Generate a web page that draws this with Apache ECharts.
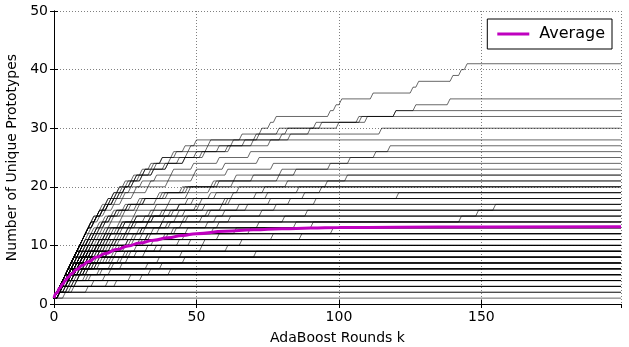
<!DOCTYPE html>
<html>
<head>
<meta charset="utf-8">
<script src="https://cdn.jsdelivr.net/npm/echarts@6/dist/echarts.min.js"></script>
<style>
  html, body { margin: 0; padding: 0; background: #fff; }
  #chart { width: 629px; height: 347px; }
</style>
</head>
<body>
<div id="chart"></div>
<script>
// each run = AdaBoost rounds at which a new prototype showed up (count starts at 1)
var runsLow = [
  [],
  [1], [4],
  [1,3], [2,6], [1,12], [2,7],
  [1,2,5], [1,3,8], [2,4,14], [1,5,19], [2,5,22],
  [1,2,3,6], [1,2,4,9], [1,3,5,13], [2,3,7,18], [1,2,6,27], [1,4,8,31],
  [1,2,3,5,8], [1,2,4,6,11], [1,3,4,7,16], [1,2,3,9,34], [2,3,6,12,41], [2,4,7,11,20],
  [1,2,3,4,6,10], [1,2,4,5,8,14], [1,2,3,6,9,21], [1,3,4,7,12,38], [1,2,5,9,17,33], [1,3,5,7,10,24],
  [1,2,3,4,6,8,12], [1,2,3,5,7,10,17], [1,2,4,5,8,13,24], [1,2,3,5,9,15,46], [1,3,5,8,12,20,37], [1,2,3,6,8,13,26],
  [1,2,3,4,5,7,9,13], [1,2,3,5,6,8,11,19], [1,2,4,5,7,10,16,29], [1,2,3,4,6,9,14,71], [2,3,5,7,11,15,23,45], [1,2,4,7,11,16,21,32]
];
var runsMid = [
  [1,2,3,4,5,6,8,10,15], [1,2,3,5,6,8,11,14,22], [1,2,4,5,7,9,13,19,36], [1,2,4,6,9,12,18,27,52], [1,3,4,6,10,14,20,26,61],
  [1,2,3,4,5,6,7,9,12,17], [1,2,3,4,6,8,10,13,18,27], [1,2,3,5,6,9,12,16,24,53], [1,2,4,6,8,11,15,21,33,48], [2,3,5,7,10,13,19,25,38,66],
  [1,2,3,4,5,6,7,8,10,13,19], [1,2,3,4,6,7,9,12,16,23,31], [1,2,4,5,7,9,11,15,20,30,87], [1,2,3,5,7,10,13,17,24,35,58], [1,3,4,6,9,12,16,22,29,44,77],
  [1,2,3,4,5,6,7,9,11,14,18,26], [1,2,3,5,6,8,10,13,17,22,33,64], [1,2,4,5,7,10,13,16,21,28,39,69], [1,2,3,5,8,11,14,19,25,32,46,98],
  [1,2,3,4,5,6,7,8,9,11,14,18,25], [1,2,3,4,6,8,10,12,16,21,29,42,91], [1,2,3,5,7,9,12,15,19,26,34,47,72], [1,2,4,6,8,11,14,18,23,31,40,56,85],
  [1,2,3,4,5,6,7,8,10,12,15,19,24,34], [1,2,3,5,6,8,9,12,15,19,25,37,58,143], [1,2,4,5,7,10,12,16,20,26,33,43,54,81],
  [1,2,3,4,5,7,8,10,12,14,17,20,24,29,39], [1,2,3,4,6,7,9,11,14,18,23,30,41,62,149], [1,2,3,5,7,9,11,14,18,22,28,35,45,57,89],
  [1,2,3,4,6,7,9,11,12,14,16,19,23,28,35,44], [1,2,3,5,6,8,10,12,15,19,24,31,40,52,73,155], [1,2,3,4,6,8,10,13,16,20,25,31,38,47,60,78],
  [1,2,3,4,5,6,8,9,11,13,15,17,20,24,29,36,49], [1,2,3,4,6,7,9,11,13,16,20,26,33,43,55,68,83], [1,2,4,5,7,9,12,14,17,21,26,32,38,46,54,65,92],
  [1,2,3,4,5,6,7,9,11,12,14,16,18,21,25,30,41,57], [1,2,3,4,5,7,8,10,12,15,18,22,28,35,44,59,76,121], [1,2,3,5,6,8,10,13,15,18,22,27,33,39,46,53,62,88],
  [1,2,3,4,5,6,7,8,10,12,13,15,17,19,22,26,32,40,47], [1,2,3,4,6,7,9,11,13,16,19,23,28,34,41,50,61,75,94], [1,2,3,4,6,8,10,12,15,17,20,24,29,35,42,51,60,71,86]
];
var runsHigh = [
  [1,2,3,4,5,6,7,8,10,11,13,15,17,20,24,29,36,47,55,63],
  [1,2,3,5,6,8,10,12,14,17,20,23,27,32,38,44,52,63,74,96],
  [1,2,3,4,5,6,7,8,9,11,12,14,16,18,21,25,30,37,45,56,79],
  [1,2,3,4,6,7,9,11,13,16,18,21,25,29,34,40,47,55,65,82,103],
  [1,2,3,4,5,6,7,9,10,12,13,15,17,19,22,26,31,38,46,58,70,85],
  [1,2,3,4,5,6,8,9,10,12,14,16,18,20,23,27,32,39,48,57,64,80,97],
  [1,2,3,4,5,6,7,8,9,10,11,13,14,16,18,21,24,28,33,40,49,61,77,104],
  [1,2,3,4,5,6,7,8,9,10,11,12,14,15,17,19,22,25,29,34,41,50,60,72,113],
  [1,2,3,4,5,6,7,8,9,10,11,12,13,15,17,19,21,24,27,31,36,42,49,58,69,118],
  [1,2,3,4,5,6,7,8,9,10,11,12,13,14,16,18,20,22,25,28,31,35,40,46,53,62,76],
  [1,2,3,4,5,6,7,8,9,10,11,12,13,15,16,18,20,22,24,27,30,34,39,44,50,58,67,83,115],
  [1,2,3,4,5,6,7,8,9,10,11,12,14,15,17,19,21,23,25,28,31,35,40,46,52,61,70,80,90,100,110],
  [1,2,3,4,5,6,7,8,9,10,11,12,13,14,16,18,19,21,23,26,29,32,36,41,47,54,63,72,82,94,107,120],
  [1,2,3,4,5,6,7,8,9,10,11,12,13,15,16,17,19,21,23,25,28,31,34,38,43,48,55,66,79,92,108,120,127,139],
  [1,2,3,4,5,6,7,8,9,10,11,12,14,15,17,19,21,23,25,27,29,32,35,38,42,46,50,71,73,76,78,97,99,101,112,126,128,140,143,145]
];
var lastRound = 199;

// average curve
var avgRounds = [0,1,2,3,4,5,6,8,10,12,15,18,22,26,30,35,40,45,50,60,70,80,90,100,120,150,199];
var avgValues = [1.0,1.9,2.7,3.4,4.0,4.6,5.1,5.9,6.6,7.2,8.0,8.6,9.3,9.9,10.4,10.9,11.3,11.7,12.0,12.4,12.65,12.85,12.95,13.05,13.1,13.15,13.2];

var xTicks = {min: 0, max: lastRound, interval: 50};
var yTicks = {min: 0, max: 50, interval: 10};

function runPoints(incs){
  var pts = [[0, 1]];
  var c = 1;
  for (var i = 0; i < incs.length; i++) {
    pts.push([incs[i] - 1, c]);
    c++;
    pts.push([incs[i], c]);
  }
  pts.push([lastRound, c]);
  return pts;
}

var series = [];
var allRuns = runsLow.concat(runsMid, runsHigh);
for (var i = 0; i < allRuns.length; i++) {
  series.push({
    type: 'line',
    data: runPoints(allRuns[i]),
    showSymbol: false,
    silent: true,
    lineStyle: {color: '#000', width: 0.7, opacity: 0.85},
    z: 2
  });
}
var avgData = [];
for (var j = 0; j < avgRounds.length; j++) avgData.push([avgRounds[j], avgValues[j]]);
series.push({
  name: 'Average',
  type: 'line',
  data: avgData,
  smooth: true,
  smoothMonotone: 'x',
  showSymbol: false,
  color: '#bf00bf',
  lineStyle: {color: '#bf00bf', width: 3},
  z: 5
});

var font = 'DejaVu Sans';
var gridLine = {show: true, lineStyle: {color: '#808080', width: 1, type: [1, 2]}};

var chart = echarts.init(document.getElementById('chart'));
chart.setOption({
  animation: false,
  backgroundColor: '#fff',
  textStyle: {fontFamily: font},
  grid: {left: 54, right: 8, top: 11, bottom: 43, containLabel: false, outerBoundsMode: 'none'},
  legend: {
    data: [{name: 'Average', icon: 'rect'}],
    right: 17,
    top: 19,
    orient: 'vertical',
    backgroundColor: '#fff',
    borderColor: '#000',
    borderWidth: 1,
    borderRadius: 0,
    padding: [7, 7, 7, 10],
    itemWidth: 32,
    itemHeight: 3,
    textStyle: {fontFamily: font, fontSize: 16, color: '#000', padding: [0, 0, 0, 5]}
  },
  xAxis: [{
    type: 'value', min: xTicks.min, max: xTicks.max, interval: xTicks.interval,
    name: 'AdaBoost Rounds k', nameLocation: 'middle', nameGap: 27,
    nameTextStyle: {fontFamily: font, fontSize: 14, color: '#000'},
    axisLine: {show: true, onZero: false, lineStyle: {color: '#000', width: 1}},
    axisTick: {show: true, inside: true, length: 4, lineStyle: {color: '#000'}},
    axisLabel: {fontFamily: font, fontSize: 14, color: '#000', margin: 6, showMaxLabel: false},
    splitLine: gridLine
  }, {
    type: 'value', position: 'top', min: xTicks.min, max: xTicks.max, interval: xTicks.interval,
    axisLine: {show: true, lineStyle: {color: '#000', width: 1}},
    axisTick: {show: true, inside: true, length: 4, lineStyle: {color: '#000'}},
    axisLabel: {show: false},
    splitLine: {show: false}
  }],
  yAxis: [{
    type: 'value', min: yTicks.min, max: yTicks.max, interval: yTicks.interval,
    name: 'Number of Unique Prototypes', nameLocation: 'middle', nameGap: 33,
    nameTextStyle: {fontFamily: font, fontSize: 14, color: '#000'},
    axisLine: {show: true, onZero: false, lineStyle: {color: '#000', width: 1}},
    axisTick: {show: true, inside: true, length: 4, lineStyle: {color: '#000'}},
    axisLabel: {fontFamily: font, fontSize: 14, color: '#000', margin: 6},
    splitLine: gridLine
  }, {
    type: 'value', position: 'right', min: yTicks.min, max: yTicks.max, interval: yTicks.interval,
    axisLine: {show: true, lineStyle: {color: '#000', width: 1}},
    axisTick: {show: true, inside: true, length: 4, lineStyle: {color: '#000'}},
    axisLabel: {show: false},
    splitLine: {show: false}
  }],
  series: series
});
</script>
</body>
</html>
